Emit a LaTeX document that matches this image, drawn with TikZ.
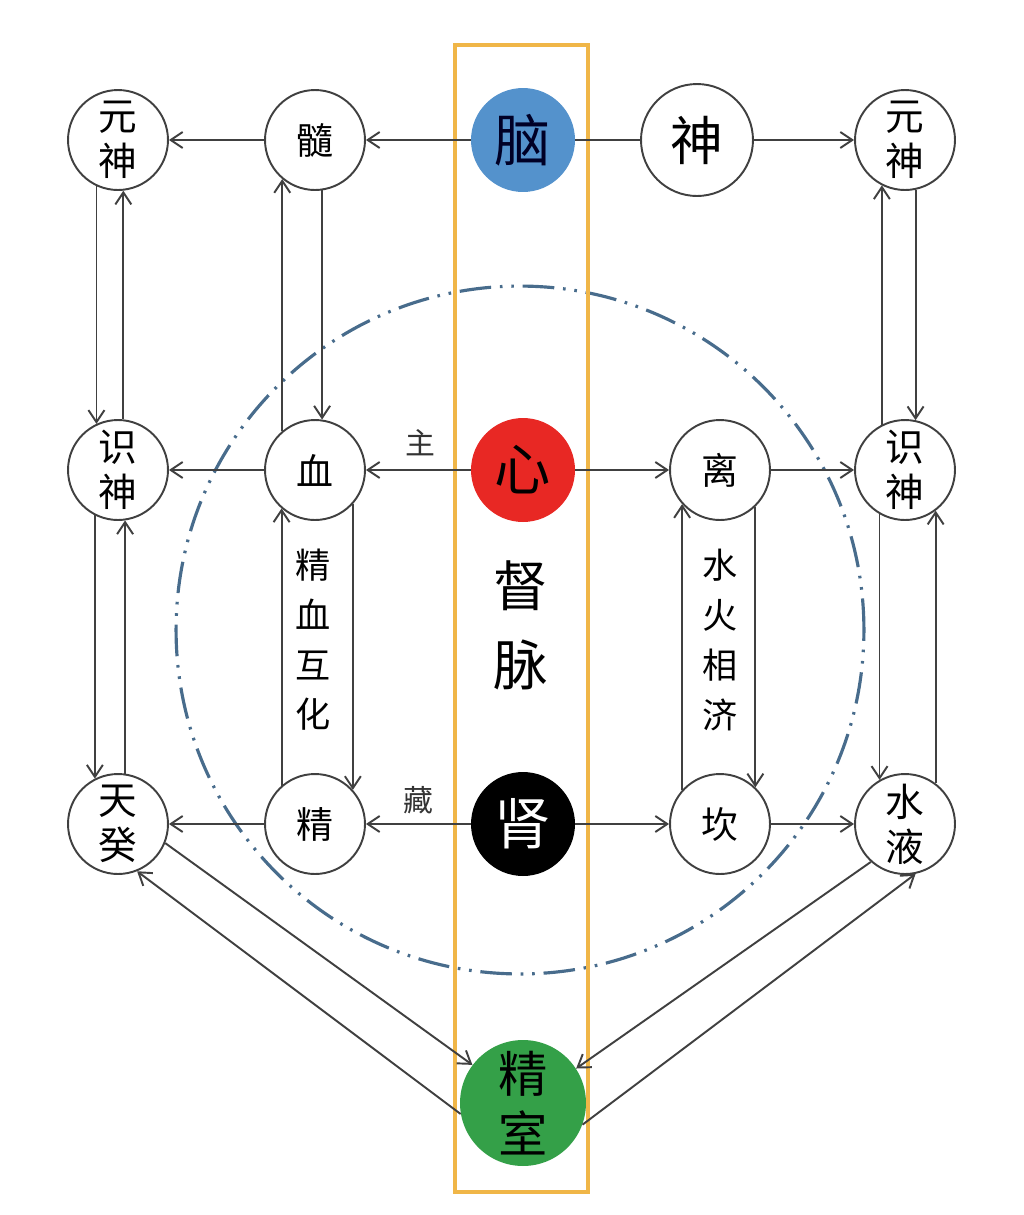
\documentclass[tikz,border=0pt]{standalone}
\usepackage{fontspec}
\setmainfont{Noto Sans CJK SC}
\usetikzlibrary{arrows.meta}
\definecolor{orangecadre}{RGB}{240,182,72}
\definecolor{bleunao}{RGB}{84,146,204}
\definecolor{rougexin}{RGB}{232,40,36}
\definecolor{vertjing}{RGB}{52,160,72}
\definecolor{bleucercle}{RGB}{72,108,140}
\definecolor{trait}{RGB}{64,64,64}
\begin{document}
\begin{tikzpicture}[x=0.02cm,y=-0.02cm,
    cercle/.style={circle,draw=trait,line width=1.1pt,fill=white,minimum size=2cm,inner sep=0pt,font=\fontsize{21}{24}\selectfont},
    double/.style={cercle,font=\fontsize{22}{25.5}\selectfont,align=center},
    organe/.style={circle,minimum size=2.08cm,inner sep=0pt,font=\fontsize{32}{36}\selectfont},
    fleche/.style={draw=trait,line width=1.1pt,-{Straight Barb[length=2.4mm,width=3.2mm]}},
    lien/.style={draw=trait,line width=1.1pt},
    etiquette/.style={font=\fontsize{17}{19}\selectfont,text=black!80},
    colonne/.style={font=\fontsize{20}{28.3}\selectfont,align=center}]
    \useasboundingbox (0,0) rectangle (1024,1215);
    % le cercle et le cadre
    \draw[bleucercle,line width=1.8pt,dash pattern=on 18pt off 5pt on 1.5pt off 5pt on 1.5pt off 5pt] (520,630) circle[radius=6.88cm];
    \draw[orangecadre,line width=2pt] (455,45) rectangle (588,1192);
    % les noeuds
    \node[double] (yuanG) at (118,140) {元\\神};
    \node[cercle] (sui) at (315,140) {髓};
    \node[organe,fill=bleunao,text=black!85!blue] (nao) at (523,140) {脑};
    \node[cercle,minimum size=2.24cm,font=\fontsize{30}{32}\selectfont] (shen) at (697,140) {神};
    \node[double] (yuanD) at (905,140) {元\\神};
    \node[double] (shiG) at (118,470) {识\\神};
    \node[cercle] (xue) at (315,470) {血};
    \node[organe,fill=rougexin] (xin) at (523,470) {心};
    \node[cercle] (li) at (720,470) {离};
    \node[double] (shiD) at (905,470) {识\\神};
    \node[double] (tiangui) at (118,824) {天\\癸};
    \node[cercle] (jing) at (315,824) {精};
    \node[organe,fill=black,text=white] (shenzang) at (523,824) {肾};
    \node[cercle] (kan) at (720,824) {坎};
    \node[double] (shuiye) at (905,824) {水\\液};
    \node[organe,fill=vertjing,minimum size=2.52cm,align=center,font=\fontsize{28}{34}\selectfont] (jingshi) at (523,1103) {精\\室};
    \node[font=\fontsize{31}{45}\selectfont,align=center] (dumai) at (521,625) {督\\脉};
    \node[etiquette] (zhu) at (420,443) {主};
    \node[etiquette] (cang) at (418,800) {藏};
    \node[colonne] (jingxue) at (313,640) {精\\血\\互\\化};
    \node[colonne] (shuihuo) at (720,640) {水\\火\\相\\济};
    % les fleches horizontales
    \draw[fleche] (nao) -- (sui);
    \draw[fleche] (sui) -- (yuanG);
    \draw[lien] (nao) -- (shen);
    \draw[fleche] (shen) -- (yuanD);
    \draw[fleche] (xin) -- (xue);
    \draw[fleche] (xue) -- (shiG);
    \draw[fleche] (xin) -- (li);
    \draw[fleche] (li) -- (shiD);
    \draw[fleche] (shenzang) -- (jing);
    \draw[fleche] (jing) -- (tiangui);
    \draw[fleche] (shenzang) -- (kan);
    \draw[fleche] (kan) -- (shuiye);
    % les fleches verticales
    \draw[fleche] (yuanG.245) -- (shiG.115);
    \draw[fleche] (shiG.84) -- (yuanG.276);
    \draw[fleche] (xue.130) -- (sui.230);
    \draw[fleche] (sui.278) -- (xue.82);
    \draw[fleche] (shiD.117) -- (yuanD.243);
    \draw[fleche] (yuanD.282) -- (shiD.78);
    \draw[fleche] (shiG.243) -- (tiangui.117);
    \draw[fleche] (tiangui.82) -- (shiG.278);
    \draw[fleche] (jing.131) -- (xue.229);
    \draw[fleche] (xue.318) -- (jing.42);
    \draw[fleche] (kan.138) -- (li.222);
    \draw[fleche] (li.314) -- (kan.46);
    \draw[fleche] (shiD.240) -- (shuiye.120);
    \draw[fleche] (shuiye.53) -- (shiD.307);
    % vers le jingshi
    \draw[fleche] (tiangui.-22) -- (jingshi.143);
    \draw[fleche] (jingshi.190) -- (tiangui.-68);
    \draw[fleche] (shuiye.-132) -- (jingshi.33);
    \draw[fleche] (jingshi.-20) -- (shuiye.-78);
\end{tikzpicture}
\end{document}
